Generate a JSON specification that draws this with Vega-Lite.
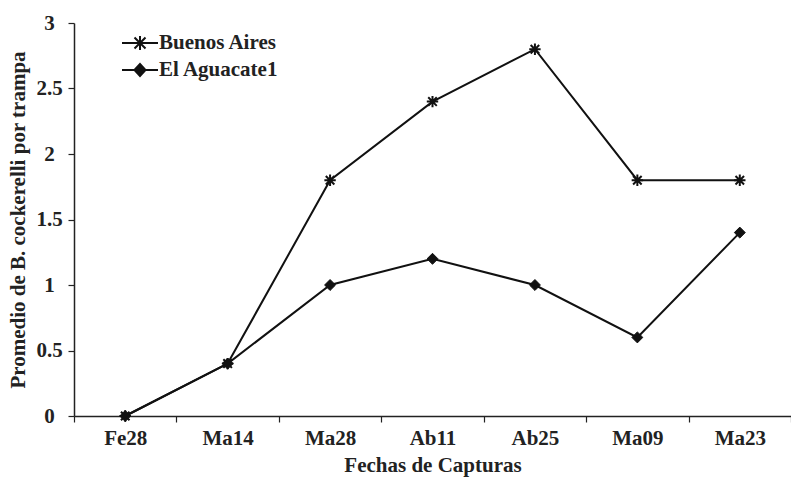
{
  "$schema": "https://vega.github.io/schema/vega-lite/v6.json",
  "autosize": "none",
  "width": 717,
  "height": 393,
  "padding": {"left": 74, "top": 23, "right": 0, "bottom": 64},
  "background": "white",
  "config": {
    "font": "Liberation Serif",
    "view": {"stroke": null},
    "axis": {"labelFont": "Liberation Serif", "titleFont": "Liberation Serif", "labelFontWeight": "bold", "titleFontWeight": "bold", "labelColor": "#222", "titleColor": "#222", "domainColor": "#222", "tickColor": "#222", "domainWidth": 1.5, "tickWidth": 1.2, "grid": false},
    "legend": {"title": null, "orient": "none", "legendX": 55, "legendY": 9, "padding": 0, "labelFont": "Liberation Serif", "labelFontWeight": "bold", "labelFontSize": 21, "labelColor": "#222", "rowPadding": 5, "symbolSize": 400, "symbolStrokeWidth": 2, "symbolOpacity": 1, "labelOffset": 8}
  },
  "data": {
    "values": [
      {"fecha": "Fe28", "sitio": "Buenos Aires", "promedio": 0},
      {"fecha": "Ma14", "sitio": "Buenos Aires", "promedio": 0.4},
      {"fecha": "Ma28", "sitio": "Buenos Aires", "promedio": 1.8},
      {"fecha": "Ab11", "sitio": "Buenos Aires", "promedio": 2.4},
      {"fecha": "Ab25", "sitio": "Buenos Aires", "promedio": 2.8},
      {"fecha": "Ma09", "sitio": "Buenos Aires", "promedio": 1.8},
      {"fecha": "Ma23", "sitio": "Buenos Aires", "promedio": 1.8},
      {"fecha": "Fe28", "sitio": "El Aguacate1", "promedio": 0},
      {"fecha": "Ma14", "sitio": "El Aguacate1", "promedio": 0.4},
      {"fecha": "Ma28", "sitio": "El Aguacate1", "promedio": 1.0},
      {"fecha": "Ab11", "sitio": "El Aguacate1", "promedio": 1.2},
      {"fecha": "Ab25", "sitio": "El Aguacate1", "promedio": 1.0},
      {"fecha": "Ma09", "sitio": "El Aguacate1", "promedio": 0.6},
      {"fecha": "Ma23", "sitio": "El Aguacate1", "promedio": 1.4}
    ]
  },
  "encoding": {
    "x": {
      "field": "fecha", "type": "nominal", "sort": null,
      "scale": {"type": "band", "paddingInner": 0, "paddingOuter": 0},
      "axis": {"title": "Fechas de Capturas", "labelAngle": 0, "labelFontSize": 21, "titleFontSize": 21, "tickSize": 6, "labelPadding": 5, "titlePadding": 6, "tickBand": "extent", "bandPosition": 0}
    },
    "y": {
      "field": "promedio", "type": "quantitative",
      "scale": {"domain": [0, 3], "nice": false},
      "axis": {"title": "Promedio de B. cockerelli  por trampa", "values": [0, 0.5, 1, 1.5, 2, 2.5, 3], "format": "~g", "labelFontSize": 21, "titleFontSize": 21, "tickSize": 6, "labelAlign": "center", "labelPadding": 19, "titlePadding": 7}
    }
  },
  "layer": [
    {
      "mark": {"type": "line", "color": "#111", "strokeWidth": 2},
      "encoding": {"detail": {"field": "sitio"}}
    },
    {
      "transform": [{"filter": "datum.sitio === 'Buenos Aires'"}],
      "mark": {"type": "point", "filled": false, "stroke": "#111", "opacity": 1, "strokeWidth": 2, "size": 130, "shape": "M-1,0L1,0M0,-1L0,1M-0.75,-0.75L0.75,0.75M-0.75,0.75L0.75,-0.75"}
    },
    {
      "transform": [{"filter": "datum.sitio === 'El Aguacate1'"}],
      "mark": {"type": "point", "filled": true, "fill": "#111", "stroke": "#111", "opacity": 1, "strokeWidth": 1, "size": 120, "shape": "diamond"}
    },
    {
      "mark": {"type": "point", "filled": false, "opacity": 0, "strokeWidth": 2, "size": 400},
      "encoding": {
        "shape": {
          "field": "sitio", "type": "nominal",
          "scale": {"domain": ["Buenos Aires", "El Aguacate1"], "range": ["M-1.8,0L1.8,0M0,-0.7L0,0.7M-0.55,-0.55L0.55,0.55M-0.55,0.55L0.55,-0.55", "M-1.8,0L1.8,0M-0.55,0L0,-0.6L0.55,0L0,0.6Z"]}
        },
        "fill": {
          "field": "sitio", "type": "nominal",
          "scale": {"domain": ["Buenos Aires", "El Aguacate1"], "range": ["transparent", "#111111"]}
        },
        "stroke": {
          "field": "sitio", "type": "nominal",
          "scale": {"domain": ["Buenos Aires", "El Aguacate1"], "range": ["#111111", "#111111"]}
        }
      }
    }
  ]
}
